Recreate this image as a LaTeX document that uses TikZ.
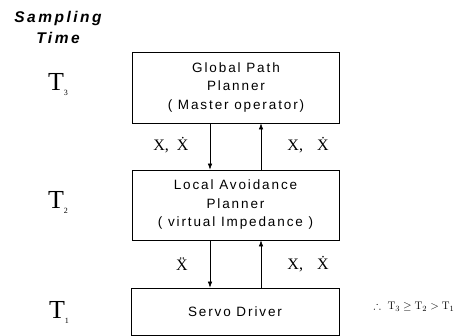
\documentclass[tikz,border=0pt]{standalone}
\usepackage{amssymb}
\usepackage{fontspec}
\usetikzlibrary{arrows.meta}
\newfontfamily\boxfont[LetterSpace=14]{Liberation Sans}
\newfontfamily\headfont[LetterSpace=16]{Liberation Sans}
\newfontfamily\sersf{Liberation Serif}
\newcommand{\bigT}[1]{{\sersf\fontsize{26}{26}\selectfont T\raisebox{-5pt}{\fontsize{8}{8}\selectfont #1}}}
\begin{document}
\begin{tikzpicture}[x=1pt,y=-1pt,
  blk/.style={draw,line width=0.8pt,minimum width=207pt,inner sep=0pt,align=center,
    font=\boxfont\fontsize{13.5}{18.5}\selectfont},
  arr/.style={line width=0.6pt,-{Latex[length=6pt,width=4.5pt]}},
  lbl/.style={inner sep=0pt,font=\sersf\fontsize{16}{16}\selectfont},
  tlab/.style={inner sep=0pt}]
\useasboundingbox (0,0) rectangle (463,336);
\node[inner sep=0pt,align=center,font=\headfont\bfseries\itshape\fontsize{15.5}{21}\selectfont] (head) at (58,27) {Sampling\\Time};
\node[blk,minimum height=71pt] (global) at (236,87.5) {Global Path\\Planner\\( Master operator)};
\node[blk,minimum height=70pt] (local) at (235.5,205) {Local Avoidance\\Planner\\( virtual Impedance )};
\node[blk,minimum height=47pt,minimum width=208pt] (servo) at (235,311.5) {Servo Driver};
\node[tlab] (t3) at (58,85) {\bigT{3}};
\node[tlab] (t2) at (58,202) {\bigT{2}};
\node[tlab] (t1) at (59,312) {\bigT{1}};
\coordinate (dn) at (210,0);
\coordinate (up) at (261,0);
\draw[arr] (global.south -| dn) -- (local.north -| dn);
\draw[arr] (local.north -| up) -- (global.south -| up);
\draw[arr] (local.south -| dn) -- (servo.north -| dn);
\draw[arr] (servo.north -| up) -- (local.south -| up);
\node[lbl] (l1) at (171,145) {X,\hspace{8pt}\.{X}};
\node[lbl] (l2) at (308,145) {X,\hspace{14pt}\.{X}};
\node[lbl] (l3) at (182,264) {\"{X}};
\node[lbl] (l4) at (308,264) {X,\hspace{14pt}\.{X}};
\node[inner sep=0pt,font=\fontsize{11}{13}\selectfont] (rel) at (414,307) {$\therefore\ \mathrm{T}_3 \geq \mathrm{T}_2 > \mathrm{T}_1$};
\end{tikzpicture}
\end{document}
